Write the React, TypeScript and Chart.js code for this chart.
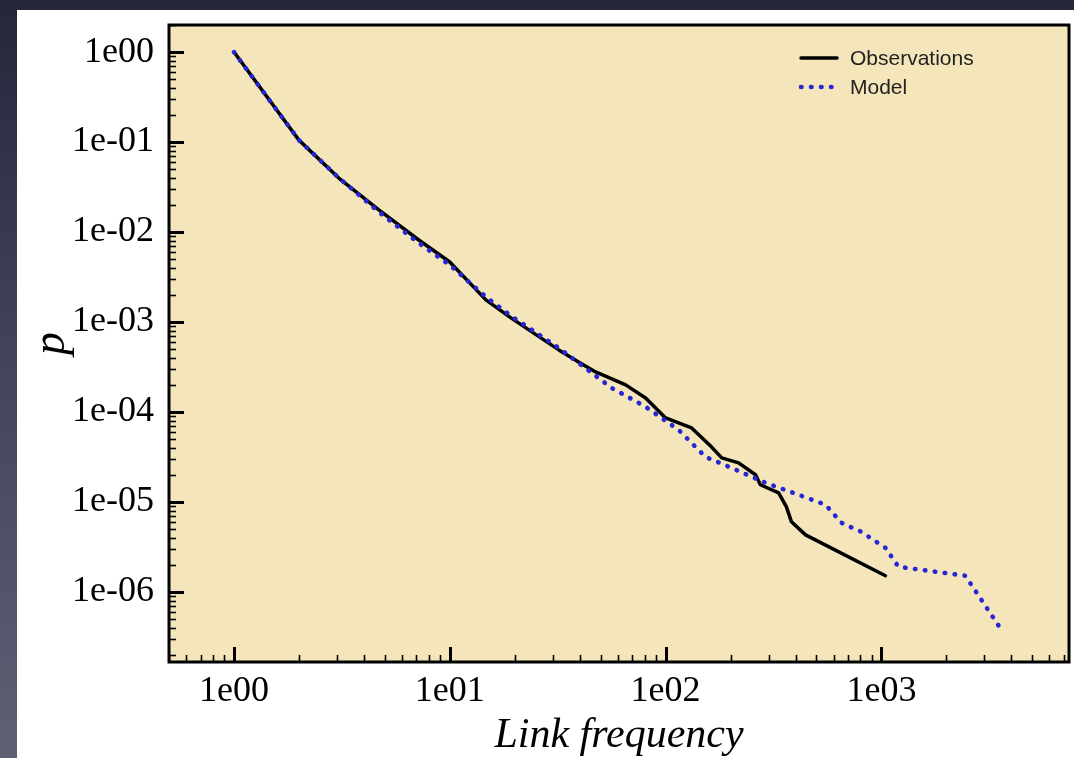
import { useEffect, useRef } from 'react';
import { Chart, registerables } from 'chart.js';

Chart.register(...registerables);

// Link frequency vs. probability, observed distribution
const obsX = [1, 2, 3.06, 4.69, 7.18, 10, 14.7, 19.2, 32, 39.5, 47.4, 65.3, 80.8, 100, 132, 163, 182, 218, 261, 275, 334, 363, 383, 445, 1044];
const obsY = [1, 0.105, 0.0398, 0.0176, 0.00815, 0.00464, 0.00176, 0.00111, 4.89e-4, 3.59e-4, 2.78e-4, 2.0e-4, 1.43e-4, 8.58e-5, 6.64e-5, 4.09e-5, 3.08e-5, 2.71e-5, 2.0e-5, 1.55e-5, 1.26e-5, 8.8e-6, 6.0e-6, 4.3e-6, 1.51e-6];

// Model prediction
const modelX = [1, 2, 3.06, 4.69, 7.18, 10, 14.7, 19.2, 32, 39.5, 56.2, 80.8, 115, 153, 202, 290, 413, 551, 653, 808, 1044, 1199, 2448, 3594];
const modelY = [1, 0.105, 0.04, 0.0167, 0.00755, 0.0043, 0.0019, 0.00117, 5.14e-4, 3.5e-4, 1.85e-4, 1.14e-4, 6.3e-5, 3.16e-5, 2.39e-5, 1.63e-5, 1.2e-5, 9.3e-6, 5.85e-6, 4.64e-6, 3.08e-6, 1.9e-6, 1.51e-6, 3.79e-7];

const seriesNames = ['Observations', 'Model'];

const xTickValues = [1, 10, 100, 1000];
const xTickLabels = ['1e00', '1e01', '1e02', '1e03'];
const yTickValues = [1, 1e-1, 1e-2, 1e-3, 1e-4, 1e-5, 1e-6];
const yTickLabels = ['1e00', '1e-01', '1e-02', '1e-03', '1e-04', '1e-05', '1e-06'];

const xLimits = [0.5, 7400];
const yLimits = [1.66e-7, 2.0];

const xTitle = 'Link frequency';
const yTitle = 'p';

const PLOT_BG = 'rgb(245, 229, 186)';
const OBS_COLOR = '#000000';
const MODEL_COLOR = '#2626d4';
const SERIF = '"Liberation Serif", "Times New Roman", serif';
const SANS = '"Liberation Sans", Arial, sans-serif';

function logMarks(min: number, max: number) {
  const out: { v: number; major: boolean }[] = [];
  for (let d = Math.floor(Math.log10(min)); d <= Math.ceil(Math.log10(max)); d++) {
    for (let m = 1; m <= 9; m++) {
      const v = m * Math.pow(10, d);
      if (v >= min && v <= max) out.push({ v, major: m === 1 });
    }
  }
  return out;
}

const framePlugin = {
  id: 'frameTicksLegend',
  beforeDraw(chart: any) {
    const { ctx, chartArea: a } = chart;
    ctx.save();
    ctx.fillStyle = PLOT_BG;
    ctx.fillRect(a.left, a.top, a.width, a.height);
    ctx.restore();
  },
  afterDraw(chart: any) {
    const { ctx, chartArea: a } = chart;
    const xs = chart.scales.x;
    const ys = chart.scales.y;
    ctx.save();
    ctx.strokeStyle = '#000';
    ctx.lineCap = 'butt';

    // inward tick marks on the bottom axis
    for (const t of logMarks(xs.min, xs.max)) {
      const px = Math.round(xs.getPixelForValue(t.v)) + 0.5;
      ctx.lineWidth = t.major ? 3 : 1.6;
      ctx.beginPath();
      ctx.moveTo(px, a.bottom);
      ctx.lineTo(px, a.bottom - (t.major ? 15 : 7));
      ctx.stroke();
    }
    // inward tick marks on the left axis
    for (const t of logMarks(ys.min, ys.max)) {
      const py = Math.round(ys.getPixelForValue(t.v)) + 0.5;
      ctx.lineWidth = t.major ? 3 : 1.6;
      ctx.beginPath();
      ctx.moveTo(a.left, py);
      ctx.lineTo(a.left + (t.major ? 15 : 7), py);
      ctx.stroke();
    }

    // plot frame
    ctx.lineWidth = 3;
    ctx.strokeRect(a.left, a.top, a.width, a.height);

    // legend
    const ds = chart.data.datasets;
    const lx = a.right - 269;
    const rows = [a.top + 33, a.top + 62];
    ds.forEach((d: any, i: number) => {
      const y = rows[i];
      ctx.save();
      ctx.strokeStyle = d.borderColor;
      ctx.lineWidth = d.borderWidth;
      ctx.lineCap = d.borderCapStyle || 'butt';
      ctx.setLineDash(d.borderDash || []);
      ctx.beginPath();
      ctx.moveTo(lx + 1, y);
      ctx.lineTo(lx + 37, y);
      ctx.stroke();
      ctx.restore();
      ctx.fillStyle = '#222';
      ctx.font = `21px ${SANS}`;
      ctx.textAlign = 'left';
      ctx.textBaseline = 'middle';
      ctx.fillText(d.label, lx + 50, y + 1);
    });

    // y-axis title
    ctx.save();
    ctx.translate(52, (a.top + a.bottom) / 2);
    ctx.rotate(-Math.PI / 2);
    ctx.fillStyle = '#000';
    ctx.font = `italic 46px ${SERIF}`;
    ctx.textAlign = 'center';
    ctx.textBaseline = 'middle';
    ctx.fillText(yTitle, 0, 0);
    ctx.restore();

    ctx.restore();
  },
};

export default function App() {
  const canvasRef = useRef<HTMLCanvasElement | null>(null);

  useEffect(() => {
    const canvas = canvasRef.current;
    if (!canvas) return;
    const chart = new Chart(canvas, {
      type: 'scatter',
      data: {
        datasets: [
          {
            label: seriesNames[0],
            data: obsX.map((x, i) => ({ x, y: obsY[i] })),
            showLine: true,
            borderColor: OBS_COLOR,
            backgroundColor: OBS_COLOR,
            borderWidth: 3.5,
            borderCapStyle: 'round',
            borderJoinStyle: 'round',
            pointRadius: 0,
            tension: 0,
            order: 1,
          },
          {
            label: seriesNames[1],
            data: modelX.map((x, i) => ({ x, y: modelY[i] })),
            showLine: true,
            borderColor: MODEL_COLOR,
            backgroundColor: MODEL_COLOR,
            borderWidth: 4.6,
            borderDash: [0.5, 9.5],
            borderCapStyle: 'round',
            borderJoinStyle: 'round',
            pointRadius: 0,
            tension: 0,
            order: 0,
          },
        ],
      },
      options: {
        responsive: false,
        animation: false,
        devicePixelRatio: 1,
        layout: { padding: { top: 25, right: 5, left: 0, bottom: 0 } },
        plugins: {
          legend: { display: false },
          tooltip: { enabled: false },
        },
        scales: {
          x: {
            type: 'logarithmic',
            min: xLimits[0],
            max: xLimits[1],
            grid: { display: false, drawTicks: false },
            border: { display: false },
            afterBuildTicks: (scale: any) => {
              scale.ticks = xTickValues.map((v) => ({ value: v }));
            },
            afterFit: (scale: any) => {
              scale.height = 96;
              scale.paddingLeft = 0;
              scale.paddingRight = 0;
            },
            ticks: {
              autoSkip: false,
              maxRotation: 0,
              padding: 8,
              color: '#000',
              font: { family: SERIF, size: 36 },
              callback: (_v: any, i: number) => xTickLabels[i],
            },
            title: {
              display: true,
              text: xTitle,
              color: '#000',
              font: { family: SERIF, size: 42, style: 'italic', lineHeight: 1 },
              padding: { top: 0, bottom: 1 },
            },
          },
          y: {
            type: 'logarithmic',
            min: yLimits[0],
            max: yLimits[1],
            grid: { display: false, drawTicks: false },
            border: { display: false },
            afterBuildTicks: (scale: any) => {
              scale.ticks = yTickValues.map((v) => ({ value: v }));
            },
            afterFit: (scale: any) => {
              scale.width = 169;
              scale.paddingTop = 0;
              scale.paddingBottom = 0;
            },
            ticks: {
              autoSkip: false,
              padding: 15,
              color: '#000',
              font: { family: SERIF, size: 36 },
              callback: (_v: any, i: number) => yTickLabels[i],
            },
          },
        },
      },
      plugins: [framePlugin],
    } as any);
    return () => chart.destroy();
  }, []);

  return (
    <div
      style={{
        position: 'fixed',
        left: 0,
        top: 0,
        width: 1074,
        height: 758,
        overflow: 'hidden',
        background: 'linear-gradient(to bottom, #25263a 0%, #41435a 45%, #5e6074 100%)',
      }}
    >
      <div style={{ position: 'absolute', left: 17, top: 10, right: 0, bottom: 0, background: '#ffffff' }} />
      <canvas
        ref={canvasRef}
        width={1074}
        height={758}
        style={{ position: 'absolute', left: 0, top: 0, width: 1074, height: 758 }}
      />
    </div>
  );
}
